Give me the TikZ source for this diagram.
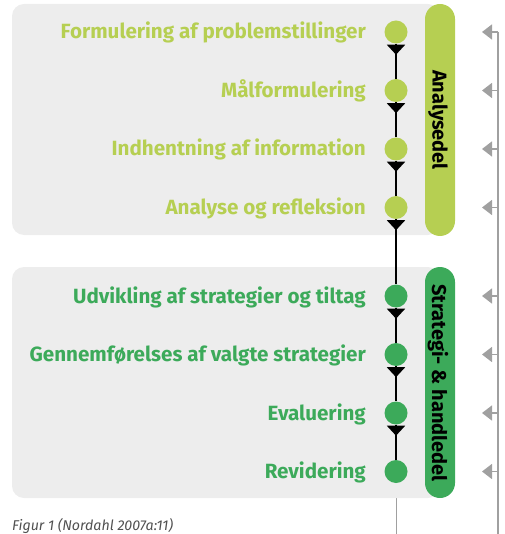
\documentclass[tikz,border=0pt]{standalone}
\usepackage{fontspec}
\setmainfont{Fira Sans}
\usetikzlibrary{arrows.meta,decorations.markings}

\definecolor{lightgreen}{HTML}{B6CF52}
\definecolor{darkgreen}{HTML}{3CAA5A}
\definecolor{panelgray}{HTML}{EDEDED}
\definecolor{linegray}{HTML}{A0A0A0}
\definecolor{captiongray}{HTML}{505050}

\tikzset{
  panel/.style={fill=panelgray, draw=none, rounded corners=12pt},
  pill/.style={draw=none, rounded corners=15pt},
  dot/.style={circle, draw=none, inner sep=0pt, minimum size=23pt},
  steplabel/.style={anchor=base east, inner sep=0pt,
    font=\bfseries\fontsize{20.6}{23}\selectfont},
  pilllabel/.style={rotate=-90, anchor=center, inner sep=0pt, text=black,
    font=\bfseries\fontsize{20}{22}\selectfont},
  flow/.style={line width=2pt, black,
    decoration={markings, mark=at position 11pt with
      {\arrow{Triangle[width=18pt,length=10pt]}}},
    postaction={decorate}},
  tail/.style={line width=1pt, linegray},
  feedback/.style={line width=1.5pt, linegray},
  back/.style={feedback, -{Triangle[width=15pt,length=10pt]}},
}

\begin{document}
\begin{tikzpicture}[x=1pt, y=-1pt]
  \useasboundingbox (0,0) rectangle (504,534);

  % thin line running on below the last step
  \coordinate (tailtop) at (396,498);
  \coordinate (tailend) at (396,534);
  \draw[tail] (tailtop) -- (tailend);

  % the two panels and their side pills
  \fill[panel] (12,4) rectangle (440,235);
  \fill[panel] (12,267) rectangle (440,498);
  \fill[pill, lightgreen] (425,4) rectangle (455,236);
  \fill[pill, darkgreen] (425,267) rectangle (455,498);
  \node[pilllabel] (analyse) at (438,120) {Analysedel};
  \node[pilllabel] (handle) at (438,383) {Strategi- \& handledel};

  % step dots
  \node[dot, fill=lightgreen] (d1) at (396,32) {};
  \node[dot, fill=lightgreen] (d2) at (396,90.5) {};
  \node[dot, fill=lightgreen] (d3) at (396,149) {};
  \node[dot, fill=lightgreen] (d4) at (396,207.5) {};
  \node[dot, fill=darkgreen] (d5) at (396,296) {};
  \node[dot, fill=darkgreen] (d6) at (396,354.5) {};
  \node[dot, fill=darkgreen] (d7) at (396,413) {};
  \node[dot, fill=darkgreen] (d8) at (396,471.5) {};

  % step flow
  \foreach \a/\b in {d1/d2, d2/d3, d3/d4, d4/d5, d5/d6, d6/d7, d7/d8}
    \draw[flow] (\a) -- (\b);

  % step labels
  \node[steplabel, text=lightgreen] (l1) at (366,39) {Formulering af problemstillinger};
  \node[steplabel, text=lightgreen] (l2) at (366,97.5) {Målformulering};
  \node[steplabel, text=lightgreen] (l3) at (366,156) {Indhentning af information};
  \node[steplabel, text=lightgreen] (l4) at (366,214.5) {Analyse og refleksion};
  \node[steplabel, text=darkgreen] (l5) at (366,303) {Udvikling af strategier og tiltag};
  \node[steplabel, text=darkgreen] (l6) at (366,361.5) {Gennemførelses af valgte strategier};
  \node[steplabel, text=darkgreen] (l7) at (366,420) {Evaluering};
  \node[steplabel, text=darkgreen] (l8) at (366,478.5) {Revidering};

  % feedback line on the right
  \coordinate (rbot) at (498,534);
  \foreach \i/\y in {1/32, 2/90.5, 3/149, 4/207.5, 5/296, 6/354.5, 7/413, 8/471.5} {
    \coordinate (f\i) at (498,\y);
    \coordinate (t\i) at (482,\y);
  }
  \draw[feedback] (f1) -- (rbot);
  \foreach \i in {1,...,8}
    \draw[back] (f\i) -- (t\i);

  % caption
  \node[anchor=base west, inner sep=0pt, text=captiongray,
        font=\itshape\fontsize{14.2}{16}\selectfont] (caption) at (12,530)
    {Figur 1 (Nordahl 2007a:11)};
\end{tikzpicture}
\end{document}
